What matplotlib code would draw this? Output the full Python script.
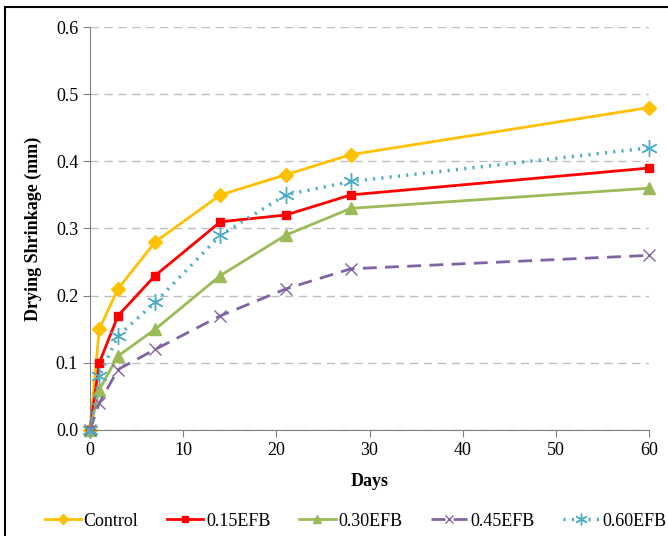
import matplotlib
matplotlib.use("Agg")
import matplotlib.pyplot as plt
from matplotlib.patches import Rectangle

plt.rcParams['font.family'] = ['Liberation Serif', 'DejaVu Serif']

days = [0, 1, 3, 7, 14, 21, 28, 60]
control = [0.0, 0.15, 0.21, 0.28, 0.35, 0.38, 0.41, 0.48]
efb_015 = [0.0, 0.10, 0.17, 0.23, 0.31, 0.32, 0.35, 0.39]
efb_030 = [0.0, 0.06, 0.11, 0.15, 0.23, 0.29, 0.33, 0.36]
efb_045 = [0.0, 0.04, 0.09, 0.12, 0.17, 0.21, 0.24, 0.26]
efb_060 = [0.0, 0.08, 0.14, 0.19, 0.29, 0.35, 0.37, 0.42]

labels = ['Control', '0.15EFB', '0.30EFB', '0.45EFB', '0.60EFB']
x_ticks = [0, 10, 20, 30, 40, 50, 60]
y_ticks = [0.0, 0.1, 0.2, 0.3, 0.4, 0.5, 0.6]

fig = plt.figure(figsize=(6.68, 5.36), dpi=100)
ax = fig.add_axes([0.1347, 0.1978, 0.8369, 0.7518])

# outer frame (only left/top visible, cropped screenshot)
fig.patches.append(Rectangle((0.0075, -0.05), 1.2, 1.037, transform=fig.transFigure,
                             fill=False, edgecolor='black', linewidth=1.5))

ax.plot(days, control, color='#FFC000', lw=2, marker='D', ms=7, label=labels[0], clip_on=False)
ax.plot(days, efb_015, color='#FF0000', lw=2, marker='s', ms=6, label=labels[1], clip_on=False)
ax.plot(days, efb_030, color='#9BBB59', lw=2, marker='^', ms=8, label=labels[2], clip_on=False)
ax.plot(days, efb_045, color='#8064A2', lw=2, ls=(0, (5, 3)), marker='x', ms=9,
        mew=1, label=labels[3], clip_on=False)
ax.plot(days, efb_060, color='#4BACC6', lw=2.5, ls=(0, (0.6, 1.8)), marker=(6, 2, 0),
        ms=12, mew=1, label=labels[4], clip_on=False)

ax.set_xlim(0, 60)
ax.set_ylim(0, 0.6)
ax.set_xticks(x_ticks)
ax.set_yticks(y_ticks)
ax.set_yticklabels([f'{v:.1f}' for v in y_ticks])
ax.tick_params(labelsize=13, color='#808080', length=5)
ax.yaxis.grid(True, ls=(0, (6, 4)), color='#BFBFBF', lw=1)
ax.set_axisbelow(True)
for s in ['top', 'right']:
    ax.spines[s].set_visible(False)
for s in ['left', 'bottom']:
    ax.spines[s].set_color('#808080')

ax.set_xlabel('Days', fontsize=13, fontweight='bold', labelpad=10)
ax.set_ylabel('Drying Shrinkage (mm)', fontsize=13, fontweight='bold', labelpad=10)

ax.legend(loc='upper center', bbox_to_anchor=(0.475, -0.165), ncol=5, frameon=False,
          fontsize=13, handlelength=2.0, handletextpad=0.15, columnspacing=1.6,
          markerscale=0.7)

fig.savefig('out.png', dpi=100)
